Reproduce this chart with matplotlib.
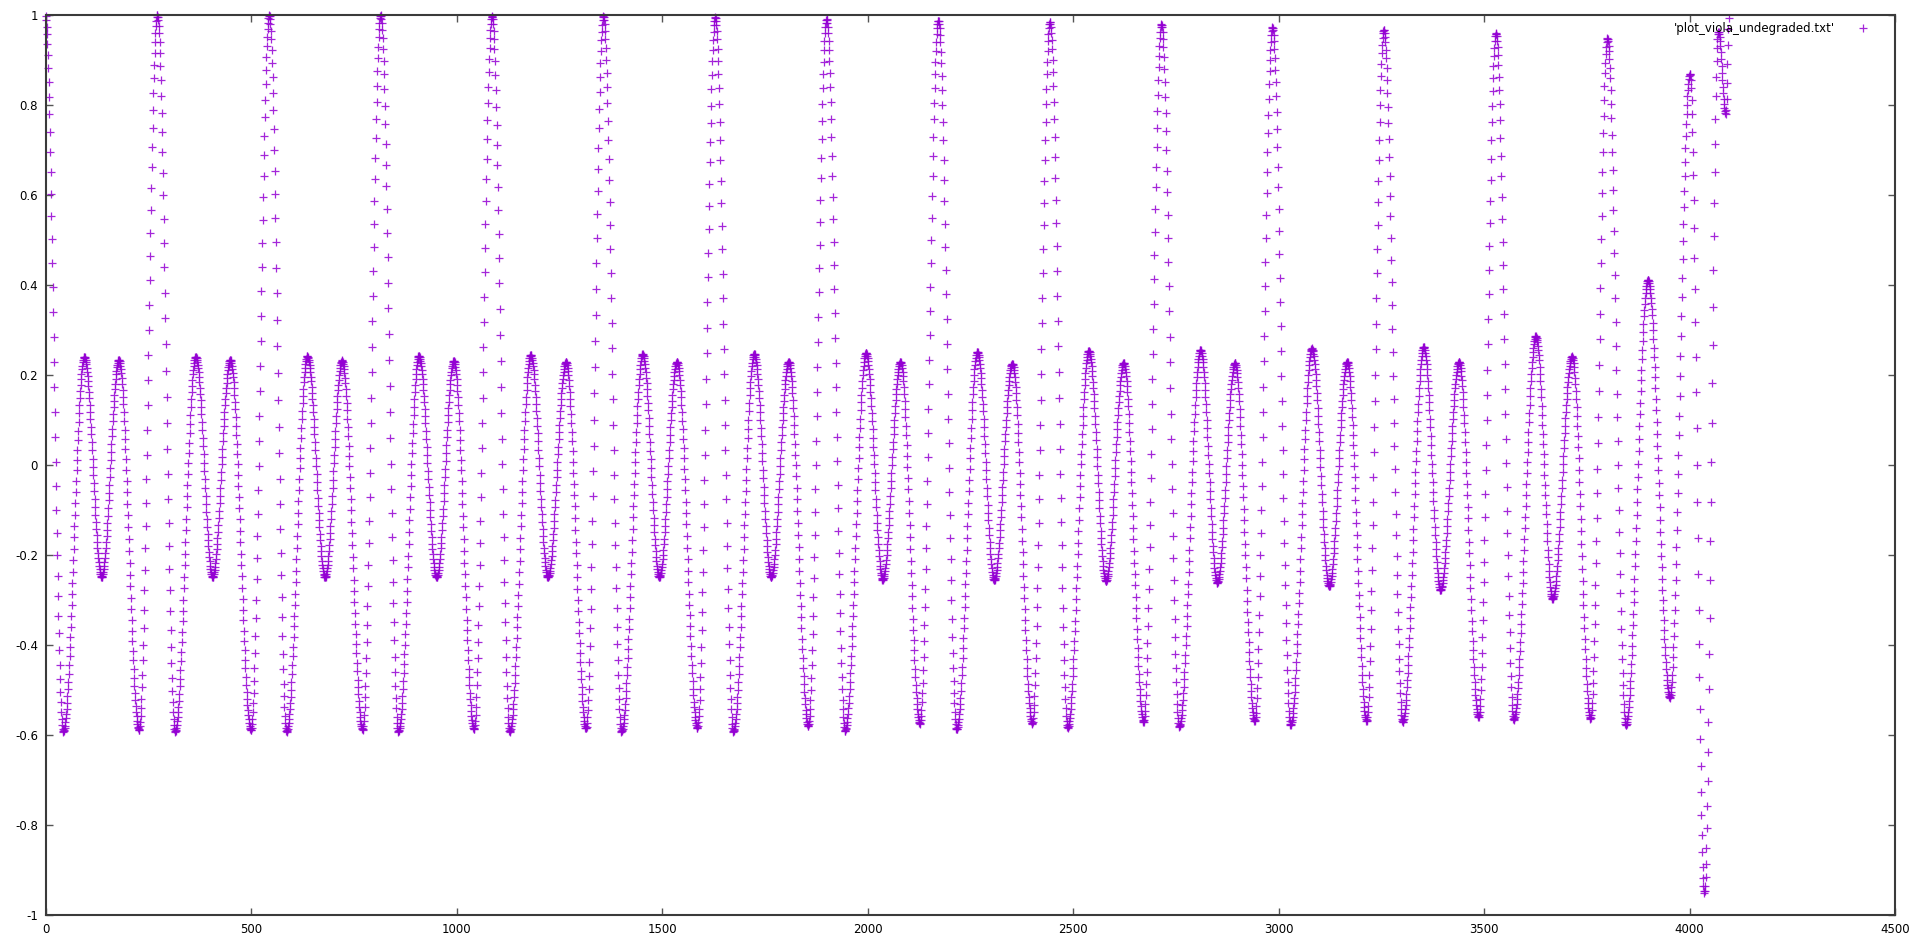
import numpy as np
import matplotlib
matplotlib.use("Agg")
import matplotlib.pyplot as plt

# ---- data: extrema of the waveform (sample index, value) ----
spike_x = [-2, 271.6, 544, 815, 1086, 1357, 1629, 1900, 2172, 2443.6, 2715, 2985, 3256, 3529, 3800, 4070]
spike_y = [1.005, 1.0, 1.0, 1.0, 0.998, 0.997, 0.995, 0.99, 0.987, 0.984, 0.98, 0.973, 0.967, 0.96, 0.948, 0.962]

trough_after_x = [42.8, 314.6, 586, 858, 1129, 1401, 1673, 1945, 2216.5, 2486.6, 2758, 3029, 3302, 3572, 3845]
trough_after_y = [-0.593, -0.593, -0.593, -0.593, -0.593, -0.593, -0.593, -0.591, -0.588, -0.584, -0.582, -0.578, -0.571, -0.566, -0.578]

peak1_x = [94, 365, 636.6, 908, 1180, 1452.5, 1724, 1996, 2267, 2538, 2810, 3081, 3353, 3626, 3899]
peak1_y = [0.24, 0.24, 0.241, 0.242, 0.244, 0.246, 0.247, 0.249, 0.251, 0.253, 0.255, 0.259, 0.262, 0.286, 0.411]

mid_x = [136, 406, 679.6, 951, 1222, 1493, 1765, 2036.5, 2308, 2580, 2850.6, 3123, 3394, 3666.6, 3952]
mid_y = [-0.249, -0.249, -0.25, -0.25, -0.25, -0.25, -0.25, -0.255, -0.256, -0.258, -0.262, -0.27, -0.278, -0.298, -0.517]

peak2_x = [178, 449, 721, 993, 1266, 1536, 1808, 2080, 2352, 2623, 2893.7, 3167, 3439, 3714, 4001]
peak2_y = [0.233, 0.233, 0.232, 0.231, 0.229, 0.229, 0.229, 0.229, 0.225, 0.227, 0.227, 0.229, 0.229, 0.241, 0.869]

trough_before_x = [227, 499.5, 771, 1042, 1314.6, 1585.5, 1855.5, 2127, 2400.5, 2671.5, 2942, 3214, 3486.6, 3759, 4036]
trough_before_y = [-0.589, -0.589, -0.588, -0.587, -0.586, -0.584, -0.581, -0.575, -0.575, -0.571, -0.569, -0.569, -0.56, -0.564, -0.951]

tail_x = [4088, 4096]
tail_y = [0.78, 1.0]

n_samples = 4096

xticks = [0, 500, 1000, 1500, 2000, 2500, 3000, 3500, 4000, 4500]
yticks = [-1, -0.8, -0.6, -0.4, -0.2, 0, 0.2, 0.4, 0.6, 0.8, 1]
ytick_labels = ["-1", "-0.8", "-0.6", "-0.4", "-0.2", "0", "0.2", "0.4", "0.6", "0.8", "1"]
legend_label = "'plot_viola_undegraded.txt'"

# ---- build the sampled series from the extrema ----
ex = np.concatenate([spike_x, trough_after_x, peak1_x, mid_x, peak2_x, trough_before_x, tail_x]).astype(float)
ey = np.concatenate([spike_y, trough_after_y, peak1_y, mid_y, peak2_y, trough_before_y, tail_y]).astype(float)
order = np.argsort(ex)
ex, ey = ex[order], ey[order]

xs = np.arange(n_samples, dtype=float)
idx = np.clip(np.searchsorted(ex, xs, side="right") - 1, 0, len(ex) - 2)
u = (xs - ex[idx]) / (ex[idx + 1] - ex[idx])
ys = ey[idx] + (ey[idx + 1] - ey[idx]) * (1 - np.cos(np.pi * u)) / 2

# ---- plot ----
plt.rcParams["font.family"] = ["DejaVu Sans"]
fig = plt.figure(figsize=(19.16, 9.44), dpi=100)
ax = fig.add_axes([45.7 / 1916, 1 - 915 / 944, (1895 - 45.7) / 1916, (915 - 14.7) / 944])

ax.plot(xs, ys, linestyle="none", marker="+", markersize=6.2, markeredgewidth=0.9,
        color="#9400d3", alpha=0.85, clip_on=False, label=legend_label)

ax.set_xlim(0, 4500)
ax.set_ylim(-1, 1)
ax.set_xticks(xticks)
ax.set_xticklabels([str(t) for t in xticks])
ax.set_yticks(yticks)
ax.set_yticklabels(ytick_labels)

for s in ax.spines.values():
    s.set_color("#3a3a3a")
    s.set_linewidth(1.5)
ax.tick_params(axis="both", direction="in", length=5, width=1.0, color="#555555",
               top=True, right=True, labelsize=8.5, labelcolor="#000000")
ax.tick_params(axis="x", pad=6)
ax.tick_params(axis="y", pad=5.5)

leg = ax.legend(loc="center right", bbox_to_anchor=(1876.6 / 1916, 1 - 28.3 / 944),
                bbox_transform=fig.transFigure, frameon=False, markerfirst=False,
                handlelength=2.3, handletextpad=1.23, borderpad=0, borderaxespad=0,
                fontsize=8.5, numpoints=1)

fig.savefig("out.png", dpi=100, facecolor="white")
